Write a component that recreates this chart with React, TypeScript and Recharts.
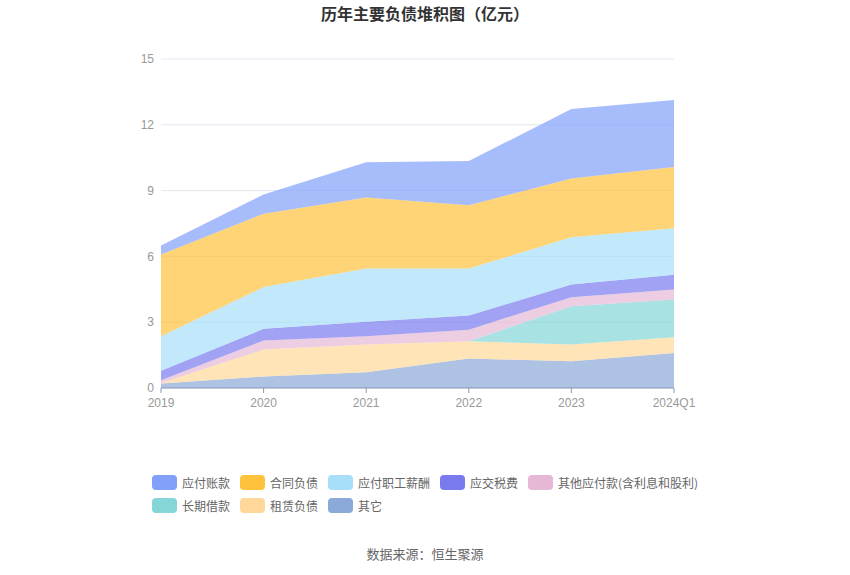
import React from "react";
import { AreaChart, Area, XAxis, YAxis, CartesianGrid } from "recharts";

const categories = ["2019", "2020", "2021", "2022", "2023", "2024Q1"];

// stacked bottom -> top
const qita = [0.2, 0.53, 0.72, 1.34, 1.22, 1.6];
const zulin = [0.03, 1.22, 1.26, 0.79, 0.76, 0.71];
const changqi = [0, 0, 0, 0, 1.75, 1.73];
const qitaYingfu = [0.12, 0.41, 0.38, 0.53, 0.41, 0.45];
const shuifei = [0.44, 0.54, 0.66, 0.64, 0.58, 0.67];
const zhigong = [1.57, 1.9, 2.43, 2.15, 2.15, 2.12];
const hetong = [3.73, 3.35, 3.23, 2.88, 2.68, 2.8];
const zhangkuan = [0.41, 0.87, 1.61, 2.02, 3.17, 3.05];

const yTicks = [0, 3, 6, 9, 12, 15];

const series = [
  { key: "qita", name: "其它", values: qita, color: "#8BAAD9" },
  { key: "zulin", name: "租赁负债", values: zulin, color: "#FFD899" },
  { key: "changqi", name: "长期借款", values: changqi, color: "#85D6D6" },
  { key: "qitaYingfu", name: "其他应付款(含利息和股利)", values: qitaYingfu, color: "#E6B8D6" },
  { key: "shuifei", name: "应交税费", values: shuifei, color: "#7A7AEF" },
  { key: "zhigong", name: "应付职工薪酬", values: zhigong, color: "#A7DFFA" },
  { key: "hetong", name: "合同负债", values: hetong, color: "#FFC23D" },
  { key: "zhangkuan", name: "应付账款", values: zhangkuan, color: "#82A0FA" },
];

const legendRows = [
  ["zhangkuan", "hetong", "zhigong", "shuifei", "qitaYingfu"],
  ["changqi", "zulin", "qita"],
];

const data = categories.map((c, i) => {
  const row: Record<string, any> = { name: c };
  series.forEach((s) => {
    row[s.key] = s.values[i];
  });
  return row;
});

const FONT = "'Noto Sans CJK SC', 'Noto Sans', sans-serif";
const TICK_FONT = "'Liberation Sans', Arial, sans-serif";

export default function App() {
  return (
    <div
      style={{
        position: "absolute",
        left: 0,
        top: 0,
        width: 850,
        height: 575,
        background: "#fff",
        fontFamily: FONT,
      }}
    >
      <div
        style={{
          position: "absolute",
          left: 0,
          width: 850,
          top: 2,
          textAlign: "center",
          fontSize: 16,
          fontWeight: "bold",
          color: "#333",
          lineHeight: "22px",
        }}
      >
        历年主要负债堆积图（亿元）
      </div>
      <AreaChart
        width={850}
        height={575}
        data={data}
        margin={{ top: 59, right: 176, left: 121, bottom: 157 }}
      >
        <CartesianGrid vertical={false} stroke="#E3E8F1" />
        <XAxis
          dataKey="name"
          axisLine={{ stroke: "#8C9BB5" }}
          tickLine={{ stroke: "#8C9BB5" }}
          tickSize={5}
          tickMargin={5}
          tick={{ fill: "#999", fontSize: 12, fontFamily: TICK_FONT }}
          height={30}
          interval={0}
        />
        <YAxis
          domain={[0, 15]}
          ticks={yTicks}
          axisLine={false}
          tickLine={false}
          width={40}
          tick={{ fill: "#999", fontSize: 12, fontFamily: TICK_FONT }}
          tickMargin={1}
        />
        {series.map((s) => (
          <Area
            key={s.key}
            type="linear"
            dataKey={s.key}
            name={s.name}
            stackId="1"
            stroke="none"
            fill={s.color}
            fillOpacity={0.7}
            isAnimationActive={false}
          />
        ))}
      </AreaChart>
      {legendRows.map((row, ri) => (
        <div
          key={ri}
          style={{
            position: "absolute",
            left: 152,
            top: 474 + ri * 23,
            display: "flex",
            alignItems: "center",
            height: 16,
          }}
        >
          {row.map((k) => {
            const s = series.find((x) => x.key === k)!;
            return (
              <div
                key={k}
                style={{ display: "flex", alignItems: "center", marginRight: 10 }}
              >
                <div
                  style={{
                    width: 25,
                    height: 15,
                    borderRadius: 4,
                    background: s.color,
                    marginRight: 5,
                  }}
                />
                <span style={{ fontSize: 12, color: "#666", whiteSpace: "nowrap" }}>
                  {s.name}
                </span>
              </div>
            );
          })}
        </div>
      ))}
      <div
        style={{
          position: "absolute",
          left: 0,
          width: 850,
          top: 545,
          textAlign: "center",
          fontSize: 13,
          color: "#666",
          lineHeight: "18px",
        }}
      >
        数据来源：恒生聚源
      </div>
    </div>
  );
}
